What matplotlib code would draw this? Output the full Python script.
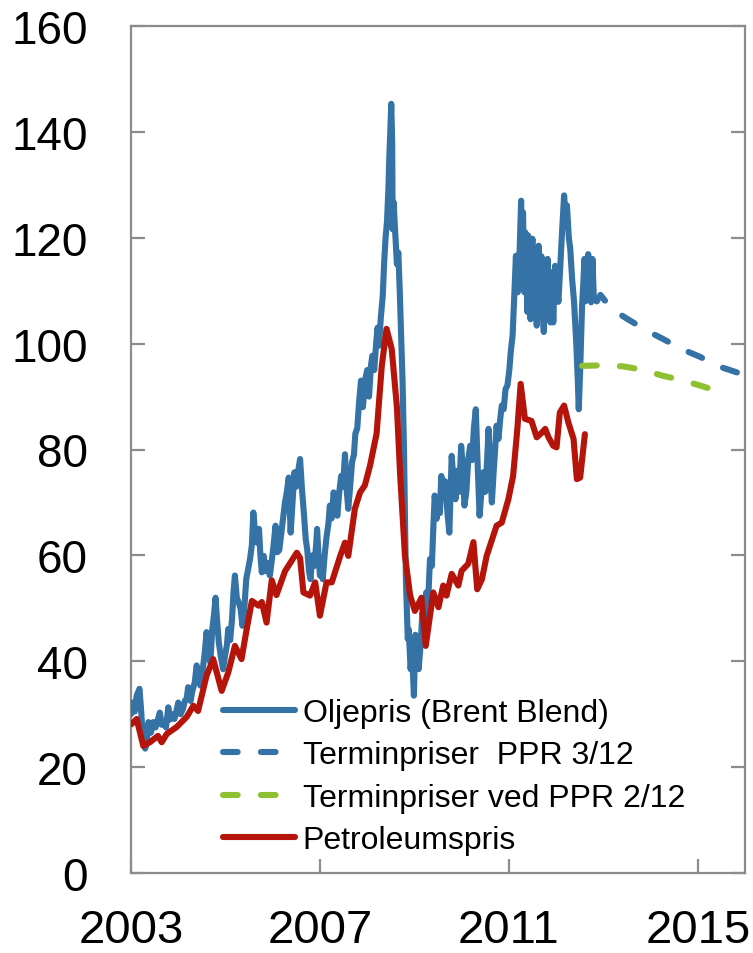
import matplotlib
matplotlib.use("Agg")
import matplotlib.pyplot as plt

plt.rcParams['font.family'] = ['Liberation Sans', 'DejaVu Sans']

# Brent Blend (USD per barrel), decimal years
brent_years = [
    2003.00, 2003.04, 2003.08, 2003.12, 2003.18, 2003.22, 2003.25, 2003.30, 2003.33, 2003.37,
    2003.42, 2003.47, 2003.52, 2003.57, 2003.61, 2003.65, 2003.70, 2003.74, 2003.79, 2003.83,
    2003.88, 2003.92, 2003.96, 2004.00, 2004.05, 2004.10, 2004.14, 2004.18, 2004.21, 2004.26,
    2004.30, 2004.35, 2004.39, 2004.43, 2004.47, 2004.52, 2004.56, 2004.60, 2004.64, 2004.68,
    2004.72, 2004.76, 2004.79, 2004.82, 2004.86, 2004.90, 2004.95, 2004.99, 2005.03, 2005.06,
    2005.10, 2005.14, 2005.17, 2005.20, 2005.24, 2005.28, 2005.32, 2005.36, 2005.40, 2005.44,
    2005.48, 2005.52, 2005.56, 2005.59, 2005.63, 2005.67, 2005.71, 2005.74, 2005.77, 2005.81,
    2005.85, 2005.90, 2005.94, 2005.98, 2006.02, 2006.06, 2006.10, 2006.14, 2006.18, 2006.22,
    2006.26, 2006.30, 2006.34, 2006.38, 2006.42, 2006.46, 2006.50, 2006.54, 2006.58, 2006.62,
    2006.66, 2006.70, 2006.73, 2006.77, 2006.80, 2006.84, 2006.88, 2006.92, 2006.94, 2006.97,
    2007.00, 2007.03, 2007.06, 2007.10, 2007.14, 2007.18, 2007.21, 2007.25, 2007.29, 2007.33,
    2007.37, 2007.41, 2007.45, 2007.49, 2007.53, 2007.57, 2007.60, 2007.64, 2007.68, 2007.72,
    2007.75, 2007.79, 2007.83, 2007.87, 2007.91, 2007.96, 2008.00, 2008.04, 2008.08, 2008.11,
    2008.15, 2008.19, 2008.22, 2008.25, 2008.29, 2008.33, 2008.36, 2008.39, 2008.42, 2008.45,
    2008.47, 2008.49, 2008.51, 2008.53, 2008.54, 2008.56, 2008.60, 2008.63, 2008.66, 2008.69,
    2008.71, 2008.73, 2008.75, 2008.78, 2008.80, 2008.82, 2008.84, 2008.86, 2008.88, 2008.92,
    2008.95, 2008.99, 2009.02, 2009.05, 2009.09, 2009.13, 2009.17, 2009.21, 2009.25, 2009.29,
    2009.33, 2009.37, 2009.40, 2009.43, 2009.47, 2009.51, 2009.54, 2009.57, 2009.61, 2009.65,
    2009.70, 2009.74, 2009.79, 2009.83, 2009.87, 2009.91, 2009.95, 2009.99, 2010.03, 2010.06,
    2010.10, 2010.14, 2010.18, 2010.22, 2010.26, 2010.30, 2010.34, 2010.38, 2010.42, 2010.46,
    2010.50, 2010.54, 2010.57, 2010.61, 2010.64, 2010.68, 2010.71, 2010.74, 2010.78, 2010.82,
    2010.85, 2010.89, 2010.93, 2010.97, 2011.01, 2011.04, 2011.08, 2011.11, 2011.15, 2011.17,
    2011.19, 2011.23, 2011.26, 2011.28, 2011.30, 2011.33, 2011.35, 2011.37, 2011.39, 2011.41,
    2011.43, 2011.46, 2011.48, 2011.50, 2011.52, 2011.55, 2011.57, 2011.59, 2011.61, 2011.63,
    2011.65, 2011.67, 2011.69, 2011.71, 2011.74, 2011.76, 2011.78, 2011.80, 2011.82, 2011.84,
    2011.86, 2011.88, 2011.90, 2011.92, 2011.94, 2011.96, 2011.98, 2012.00, 2012.02, 2012.05,
    2012.09, 2012.13, 2012.17, 2012.20, 2012.23, 2012.27, 2012.30, 2012.34, 2012.38, 2012.43,
    2012.46, 2012.48, 2012.51, 2012.55, 2012.58, 2012.60, 2012.62, 2012.64, 2012.66, 2012.68,
    2012.70, 2012.72, 2012.74, 2012.77, 2012.80, 2012.86,
]
brent_values = [
    30.0, 32.2, 30.5, 33.5, 34.8, 30.0, 25.3, 23.5, 24.5, 28.5,
    26.5, 28.5, 27.5, 29.0, 30.3, 28.0, 28.5, 27.5, 31.3, 29.0,
    30.0, 29.1, 30.5, 32.2, 30.0, 31.0, 32.5, 33.0, 35.1, 32.5,
    34.4, 36.0, 39.2, 37.0, 35.4, 38.5, 41.5, 45.5, 42.0, 39.8,
    46.0, 49.0, 52.0, 48.0, 43.5, 41.0, 38.5, 41.0, 43.0, 46.1,
    44.0, 48.0, 53.0, 56.2, 52.0, 51.1, 49.9, 46.7, 50.0, 55.5,
    57.4, 59.3, 62.0, 68.1, 64.0, 62.4, 65.0, 60.0, 56.8, 59.9,
    57.0, 58.5, 56.2, 59.0, 62.0, 65.6, 60.6, 61.0, 64.0, 67.0,
    70.0, 72.0, 74.7, 64.3, 70.0, 75.7, 73.0, 76.0, 78.2, 72.5,
    68.0, 63.0, 61.2, 57.0, 55.5, 60.0, 58.0, 62.0, 65.0, 60.0,
    56.2, 57.5, 55.5, 60.0, 63.5, 66.0, 69.4, 67.0, 71.9, 69.0,
    67.5, 72.0, 75.0, 73.0, 79.1, 72.0, 68.8, 73.0, 77.6, 79.0,
    83.0, 84.0, 89.0, 93.0, 88.0, 93.3, 95.0, 90.0, 95.8, 97.7,
    95.0, 100.0, 103.0, 99.6, 105.0, 109.0, 115.3, 120.0, 123.0, 129.2,
    135.5, 140.0, 145.3, 138.0, 121.6, 126.7, 120.0, 115.0, 117.2, 110.0,
    104.0, 98.0, 92.7, 80.0, 67.0, 55.5, 50.0, 44.2, 46.0, 38.5,
    42.0, 33.5, 45.0, 41.7, 38.5, 43.0, 49.2, 46.0, 53.0, 51.0,
    59.3, 58.0, 65.0, 71.3, 66.9, 70.0, 68.0, 75.0, 72.5, 74.0,
    68.0, 64.3, 78.8, 74.0, 70.6, 76.0, 72.0, 80.7, 76.0, 69.4,
    72.0, 78.0, 80.7, 78.0, 84.0, 87.6, 77.0, 67.5, 72.0, 75.7,
    72.0, 78.0, 83.9, 76.0, 70.0, 76.0, 80.0, 84.5, 82.0, 86.0,
    88.3, 87.6, 91.4, 92.1, 95.0, 98.4, 101.6, 108.0, 116.6, 110.0,
    109.7, 118.0, 127.0, 112.0, 124.8, 109.7, 121.0, 115.0, 106.0, 120.4,
    108.0, 104.6, 117.0, 119.8, 106.0, 110.0, 117.5, 103.4, 114.0, 118.5,
    105.0, 112.0, 116.5, 108.0, 102.2, 113.0, 110.0, 104.5, 116.0, 107.0,
    112.0, 104.0, 108.0, 113.5, 104.0, 110.0, 114.7, 108.0, 110.0, 107.9,
    115.0, 121.7, 128.0, 124.0, 126.1, 120.0, 117.9, 112.2, 108.0, 99.6,
    93.0, 87.6, 95.0, 107.1, 112.0, 116.0, 108.0, 114.0, 109.0, 116.9,
    108.5, 116.0, 107.8, 116.0, 108.5, 108.0,
]

# Forward prices at PPR 3/12
fwd312_years = [2012.86, 2012.94, 2013.18, 2013.52, 2013.93, 2014.26, 2014.65, 2015.05, 2015.41, 2015.85, 2016.00]
fwd312_values = [108.0, 109.2, 106.5, 104.6, 102.4, 100.9, 99.0, 97.5, 95.8, 94.5, 94.1]

# Forward prices at PPR 2/12
fwd212_years = [2012.55, 2012.97, 2013.42, 2013.81, 2014.27, 2014.62, 2015.08, 2015.47]
fwd212_values = [95.8, 95.9, 95.7, 95.1, 93.9, 93.2, 92.0, 90.9]

# Petroleum price
petro_years = [
    2003.01, 2003.12, 2003.26, 2003.40, 2003.57, 2003.65, 2003.76, 2003.97, 2004.18, 2004.32,
    2004.42, 2004.60, 2004.74, 2004.92, 2005.06, 2005.20, 2005.34, 2005.45, 2005.56, 2005.70,
    2005.77, 2005.87, 2005.98, 2006.08, 2006.26, 2006.51, 2006.58, 2006.65, 2006.79, 2006.90,
    2007.00, 2007.14, 2007.25, 2007.43, 2007.53, 2007.60, 2007.74, 2007.85, 2007.95, 2008.06,
    2008.20, 2008.31, 2008.41, 2008.52, 2008.63, 2008.70, 2008.80, 2008.91, 2009.01, 2009.15,
    2009.24, 2009.40, 2009.51, 2009.61, 2009.68, 2009.79, 2009.93, 2010.00, 2010.14, 2010.25,
    2010.33, 2010.43, 2010.53, 2010.74, 2010.85, 2010.99, 2011.09, 2011.18, 2011.25, 2011.34,
    2011.48, 2011.59, 2011.70, 2011.77, 2011.84, 2011.94, 2012.01, 2012.08, 2012.17, 2012.26,
    2012.37, 2012.44, 2012.51, 2012.61,
]
petro_values = [
    28.1, 29.1, 24.0, 24.7, 25.9, 24.7, 26.3, 27.6, 29.5, 31.6,
    30.6, 37.3, 40.4, 34.4, 37.9, 42.9, 40.4, 46.1, 51.4, 50.5,
    51.2, 47.3, 55.3, 52.5, 57.0, 60.5, 59.5, 53.0, 52.4, 54.9,
    48.6, 54.9, 54.9, 59.9, 62.4, 59.9, 68.8, 71.9, 73.2, 76.9,
    83.0, 95.8, 102.8, 99.0, 88.0, 75.0, 60.0, 52.4, 49.5, 52.0,
    42.9, 53.0, 50.2, 54.3, 52.4, 56.5, 54.3, 57.1, 58.4, 62.5,
    53.6, 55.5, 59.9, 65.6, 66.2, 70.6, 75.0, 83.9, 92.4, 85.8,
    85.4, 82.3, 83.2, 83.9, 82.3, 80.7, 80.4, 87.0, 88.3, 85.1,
    82.0, 74.4, 74.7, 82.9,
]

labels = ["Oljepris (Brent Blend)", "Terminpriser  PPR 3/12",
          "Terminpriser ved PPR 2/12", "Petroleumspris"]
year_ticks = [2003, 2007, 2011, 2015]
value_ticks = [0, 20, 40, 60, 80, 100, 120, 140, 160]

BLUE = "#3572a6"
RED = "#b5140b"
GREEN = "#8fc031"
SPINE = "#8c8c8c"

fig = plt.figure(figsize=(7.53, 9.54), dpi=100)
ax = fig.add_axes([131 / 753, 1 - 874 / 954, (745 - 131) / 753, (874 - 27) / 954])

lw = 4.4
dash = (2.4, 3.8)
ax.plot(brent_years, brent_values, color=BLUE, lw=lw, solid_joinstyle='round',
        solid_capstyle='round', label=labels[0], zorder=3)
ax.plot(fwd312_years, fwd312_values, color=BLUE, lw=lw, dashes=dash,
        dash_capstyle='round', label=labels[1], zorder=3)
ax.plot(fwd212_years, fwd212_values, color=GREEN, lw=lw, dashes=dash,
        dash_capstyle='round', label=labels[2], zorder=3)
ax.plot(petro_years, petro_values, color=RED, lw=lw, solid_joinstyle='round',
        solid_capstyle='round', label=labels[3], zorder=4)

ax.set_xlim(2003, 2016)
ax.set_ylim(0, 160)
ax.set_xticks(year_ticks)
ax.set_xticklabels([str(y) for y in year_ticks])
ax.set_yticks(value_ticks)
ax.set_yticklabels([str(v) for v in value_ticks])

for s in ax.spines.values():
    s.set_color(SPINE)
    s.set_linewidth(1.6)

ax.tick_params(axis='y', direction='in', length=10, width=1.6, color=SPINE,
               labelsize=33, pad=31, right=True, left=True)
ax.tick_params(axis='x', direction='in', length=10, width=1.6, color=SPINE,
               labelsize=34, pad=25, top=False)

leg = ax.legend(loc='upper left', bbox_to_anchor=((223 - 131) / 614, (874 - 699) / 847),
                frameon=False, fontsize=23, handlelength=2.25, handletextpad=0.25,
                labelspacing=0.39, borderpad=0, borderaxespad=0)

fig.savefig("out.png", dpi=100)
